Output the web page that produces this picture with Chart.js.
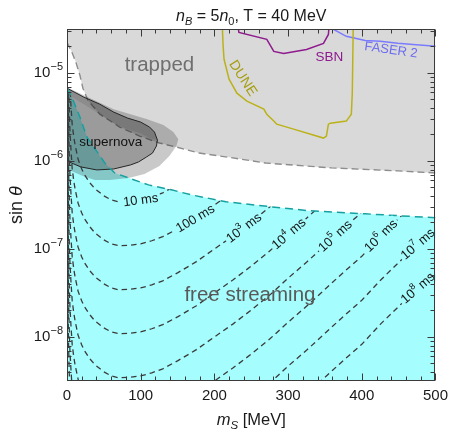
<!DOCTYPE html>
<html>
<head>
<meta charset="utf-8">
<title>Scalar: trapped vs free streaming</title>
<script src="https://cdn.jsdelivr.net/npm/chart.js@4.4.1/dist/chart.umd.min.js"></script>
<style>
  html, body { margin: 0; padding: 0; background: #fff; }
  #wrap { width: 454px; height: 430px; }
</style>
</head>
<body>
<div id="wrap"><canvas id="grafico" width="454" height="430"></canvas></div>
<script>
// axes
var massRange = [0, 500];
var sinRange = [3.16e-9, 3.16e-5];
var sinDecades = [-5, -6, -7, -8];

// lower edge of the trapped region
var trappedMass = [0, 6.7, 12.1, 17.5, 21.6, 28.3, 44.5, 71.5, 98.5, 125.4, 148.4, 179.4, 219.9, 269.8, 358.8, 449, 500];
var trappedSin = [2.23e-5, 1.72e-5, 1.32e-5, 9.42e-6, 6.71e-6, 4.91e-6, 3.40e-6, 2.43e-6, 1.92e-6, 1.60e-6, 1.44e-6, 1.23e-6, 1.10e-6, 9.48e-7, 8.34e-7, 7.71e-7, 7.31e-7];

// upper edge of the free streaming region
var freeMass = [0, 6.7, 17.5, 27, 36.4, 51.3, 64.7, 83.6, 110.6, 141.6, 168.6, 215.8, 277.9, 327.8, 404.6, 500];
var freeSin = [6.71e-6, 5.31e-6, 3.15e-6, 1.87e-6, 1.44e-6, 9.48e-7, 7.31e-7, 6.41e-7, 5.35e-7, 4.70e-7, 4.12e-7, 3.44e-7, 3.01e-7, 2.72e-7, 2.51e-7, 2.26e-7];

// supernova bounds (closed outlines)
var snOuterMass = [0, 22.9, 63.4, 107.9, 130.8, 144.3, 151.1, 148.4, 138.9, 125.4, 105.2, 83.6, 58, 37.8, 21.6, 2.7, 0];
var snOuterSin = [6.89e-6, 5.59e-6, 3.88e-6, 2.99e-6, 2.56e-6, 2.13e-6, 1.77e-6, 1.48e-6, 1.14e-6, 8.78e-7, 7.13e-7, 6.41e-7, 6.09e-7, 6.09e-7, 6.76e-7, 7.91e-7, 8.3e-7];
var snBandMass = [2.7, 22.9, 44.5, 63.4, 82.3, 99.8, 112, 118.7, 122.7, 112, 99.8, 82.3, 63.4, 44.5, 22.9, 2.7];
var snBandSin = [6.53e-6, 5.31e-6, 4.42e-6, 3.59e-6, 3.07e-6, 2.77e-6, 2.43e-6, 2.13e-6, 1.73e-6, 1.82e-6, 2.07e-6, 2.30e-6, 2.69e-6, 3.40e-6, 4.42e-6, 5.6e-6];
var snInnerMass = [0, 2.7, 22.9, 44.5, 63.4, 82.3, 99.8, 112, 118.7, 122.7, 121.4, 116, 107.9, 97.1, 86.3, 63.4, 40.5, 18.9, 2.7, 0];
var snInnerSin = [6.71e-6, 6.53e-6, 5.31e-6, 4.42e-6, 3.59e-6, 3.07e-6, 2.77e-6, 2.43e-6, 2.13e-6, 1.73e-6, 1.48e-6, 1.23e-6, 1.11e-6, 9.75e-7, 9.02e-7, 8.11e-7, 7.91e-7, 8.55e-7, 9.75e-7, 1.00e-6];

// experiment reach
var duneMass = [210.4, 211.8, 213.1, 219.9, 230.6, 244.1, 267.1, 271.1, 280.6, 284.6, 307.5, 348, 352, 354.7, 357.4, 379, 385.8, 387.1, 388.5];
var duneSin = [3.95e-5, 2.06e-5, 1.43e-5, 8.49e-6, 5.89e-6, 4.79e-6, 3.88e-6, 3.40e-6, 2.84e-6, 2.62e-6, 2.30e-6, 1.82e-6, 1.92e-6, 2.62e-6, 2.69e-6, 2.84e-6, 3.40e-6, 5.89e-6, 3.95e-5];
var sbnMass = [230.6, 233.3, 271.1, 280.6, 294, 325, 348, 354.7, 356.1];
var sbnSin = [3.95e-5, 2.89e-5, 2.41e-5, 1.76e-5, 1.67e-5, 1.85e-5, 2.17e-5, 2.74e-5, 3.95e-5];
var faserMass = [349.3, 379, 404.6, 424.9, 449.1, 469.4, 505];
var faserSin = [3.56e-5, 2.61e-5, 2.34e-5, 2.29e-5, 2.17e-5, 2.11e-5, 2.0e-5];

// lifetime contours
var contourMass = [0.5, 1, 1.5, 2, 3, 4, 5.5, 7, 9, 11, 15, 20, 24, 30, 38, 50, 60, 70, 85, 100, 115, 130, 150, 175, 200, 225, 250, 275, 300, 325, 350, 375, 400, 425, 450, 475, 500];
var tau1e1 = [1.87e-3, 2.33e-4, 7.19e-5, 2.89e-5, 1.26e-5, 6.89e-6, 4.09e-6, 2.62e-6, 1.92e-6, 1.52e-6, 1.05e-6, 8.11e-7, 6.93e-7, 5.78e-7, 4.82e-7, 4.02e-7, 3.61e-7, 3.44e-7, 3.48e-7, 3.61e-7, 3.91e-7, 4.35e-7, 5.35e-7, 7.13e-7, 1.00e-6, 1.40e-6, 2.02e-6, 2.99e-6, 4.66e-6, 7.06e-6, 1.10e-5, 1.71e-5, 2.61e-5, 4.39e-5, 7.01e-5, 1.12e-4, 1.70e-4];
var tau1e2 = [5.91e-4, 7.37e-5, 2.27e-5, 9.14e-6, 3.98e-6, 2.18e-6, 1.29e-6, 8.29e-7, 6.07e-7, 4.81e-7, 3.32e-7, 2.56e-7, 2.19e-7, 1.83e-7, 1.52e-7, 1.27e-7, 1.14e-7, 1.09e-7, 1.10e-7, 1.14e-7, 1.24e-7, 1.38e-7, 1.69e-7, 2.25e-7, 3.16e-7, 4.43e-7, 6.39e-7, 9.46e-7, 1.47e-6, 2.23e-6, 3.48e-6, 5.41e-6, 8.25e-6, 1.39e-5, 2.22e-5, 3.54e-5, 5.38e-5];
var tau1e3 = [1.87e-4, 2.33e-5, 7.19e-6, 2.89e-6, 1.26e-6, 6.89e-7, 4.09e-7, 2.62e-7, 1.92e-7, 1.52e-7, 1.05e-7, 8.11e-8, 6.93e-8, 5.78e-8, 4.82e-8, 4.02e-8, 3.61e-8, 3.44e-8, 3.48e-8, 3.61e-8, 3.91e-8, 4.35e-8, 5.35e-8, 7.13e-8, 1.00e-7, 1.40e-7, 2.02e-7, 2.99e-7, 4.66e-7, 7.06e-7, 1.10e-6, 1.71e-6, 2.61e-6, 4.39e-6, 7.01e-6, 1.12e-5, 1.70e-5];
var tau1e4 = [5.91e-5, 7.37e-6, 2.27e-6, 9.14e-7, 3.98e-7, 2.18e-7, 1.29e-7, 8.29e-8, 6.07e-8, 4.81e-8, 3.32e-8, 2.56e-8, 2.19e-8, 1.83e-8, 1.52e-8, 1.27e-8, 1.14e-8, 1.09e-8, 1.10e-8, 1.14e-8, 1.24e-8, 1.38e-8, 1.69e-8, 2.25e-8, 3.16e-8, 4.43e-8, 6.39e-8, 9.46e-8, 1.47e-7, 2.23e-7, 3.48e-7, 5.41e-7, 8.25e-7, 1.39e-6, 2.22e-6, 3.54e-6, 5.38e-6];
var tau1e5 = [1.87e-5, 2.33e-6, 7.19e-7, 2.89e-7, 1.26e-7, 6.89e-8, 4.09e-8, 2.62e-8, 1.92e-8, 1.52e-8, 1.05e-8, 8.11e-9, 6.93e-9, 5.78e-9, 4.82e-9, 4.02e-9, 3.61e-9, 3.44e-9, 3.48e-9, 3.61e-9, 3.91e-9, 4.35e-9, 5.35e-9, 7.13e-9, 1.00e-8, 1.40e-8, 2.02e-8, 2.99e-8, 4.66e-8, 7.06e-8, 1.10e-7, 1.71e-7, 2.61e-7, 4.39e-7, 7.01e-7, 1.12e-6, 1.70e-6];
var tau1e6 = [5.91e-6, 7.37e-7, 2.27e-7, 9.14e-8, 3.98e-8, 2.18e-8, 1.29e-8, 8.29e-9, 6.07e-9, 4.81e-9, 3.32e-9, 2.56e-9, 2.19e-9, 1.83e-9, 1.52e-9, 1.27e-9, 1.14e-9, 1.09e-9, 1.10e-9, 1.14e-9, 1.24e-9, 1.38e-9, 1.69e-9, 2.25e-9, 3.16e-9, 4.43e-9, 6.39e-9, 9.46e-9, 1.47e-8, 2.23e-8, 3.48e-8, 5.41e-8, 8.25e-8, 1.39e-7, 2.22e-7, 3.54e-7, 5.38e-7];
var tau1e7 = [1.87e-6, 2.33e-7, 7.19e-8, 2.89e-8, 1.26e-8, 6.89e-9, 4.09e-9, 2.62e-9, 1.92e-9, 1.52e-9, 1.05e-9, 8.11e-10, 6.93e-10, 5.78e-10, 4.82e-10, 4.02e-10, 3.61e-10, 3.44e-10, 3.48e-10, 3.61e-10, 3.91e-10, 4.35e-10, 5.35e-10, 7.13e-10, 1.00e-9, 1.40e-9, 2.02e-9, 2.99e-9, 4.66e-9, 7.06e-9, 1.10e-8, 1.71e-8, 2.61e-8, 4.39e-8, 7.01e-8, 1.12e-7, 1.70e-7];
var tau1e8 = [5.91e-7, 7.37e-8, 2.27e-8, 9.14e-9, 3.98e-9, 2.18e-9, 1.29e-9, 8.29e-10, 6.07e-10, 4.81e-10, 3.32e-10, 2.56e-10, 2.19e-10, 1.83e-10, 1.52e-10, 1.27e-10, 1.14e-10, 1.09e-10, 1.10e-10, 1.14e-10, 1.24e-10, 1.38e-10, 1.69e-10, 2.25e-10, 3.16e-10, 4.43e-10, 6.39e-10, 9.46e-10, 1.47e-9, 2.23e-9, 3.48e-9, 5.41e-9, 8.25e-9, 1.39e-8, 2.22e-8, 3.54e-8, 5.38e-8];
var contours = [tau1e1, tau1e2, tau1e3, tau1e4, tau1e5, tau1e6, tau1e7, tau1e8];
var contourNames = ['10 ms', '100 ms', '10^3 ms', '10^4 ms', '10^5 ms', '10^6 ms', '10^7 ms', '10^8 ms'];
var contourLabelMass = [100, 174, 240, 301, 364, 426, 476, 476];

var FONT = "'Liberation Sans', Arial, Helvetica, sans-serif";
var CIANO = '#a6fdfd';

// text placed in data coordinates
var notas = [
    { text: 'trapped', m: 125.4, s: 1.22e-5, size: 20.5, color: '#6f6f6f', rot: 0 },
    { text: 'supernova', m: 59.3, s: 1.64e-6, size: 13.5, color: '#111', rot: 0 },
    { text: 'free streaming', m: 248.2, s: 2.96e-8, size: 20.5, color: '#595959', rot: 0 },
    { text: 'DUNE', m: 238.5, s: 8.71e-6, size: 14, color: '#a59e10', rot: 57 },
    { text: 'SBN', m: 356, s: 1.51e-5, size: 13.5, color: '#8e1a8e', rot: 0 },
    { text: 'FASER 2', m: 439.7, s: 1.81e-5, size: 13, color: '#6d6df2', rot: 8 }
];

const fontOf = (p) => (p.italic ? 'italic ' : '') + p.size + 'px ' + FONT;

const drawRich = (ctx, parts, x, y, align) => {
    let total = 0;
    parts.forEach((p) => {
        ctx.font = fontOf(p);
        p.w = ctx.measureText(p.t).width;
        total += p.w;
    });
    let cx = align == 'right' ? x - total : (align == 'left' ? x : x - total / 2);
    parts.forEach((p) => {
        ctx.font = fontOf(p);
        ctx.fillText(p.t, cx, y + (p.dy || 0));
        cx += p.w;
    });
    return total;
};

// "10^3 ms" -> "10" + superscript "3" + " ms"
const withPower = (txt, size) => {
    const i = txt.indexOf('^');
    if (i < 0) return [{ t: txt, size: size }];
    const rest = txt.slice(i + 1);
    const j = rest.indexOf(' ');
    const exp = j < 0 ? rest : rest.slice(0, j);
    const parts = [
        { t: txt.slice(0, i), size: size },
        { t: exp.replace('-', '\u2212'), size: Math.round(size * 0.7), dy: -size * 0.38 }
    ];
    if (j >= 0) parts.push({ t: rest.slice(j), size: size });
    return parts;
};

const pontos = (ms, vs) => ms.map((m, i) => ({ x: m, y: vs[i] }));

const linha = (ms, vs, extra) => Object.assign({
    data: pontos(ms, vs),
    showLine: true,
    pointRadius: 0,
    borderWidth: 1.5,
    fill: false,
    tension: 0
}, extra);

// point and direction on a contour at a given mass
const naCurva = (chart, vals, m) => {
    const { x, y } = chart.scales;
    let i = 0;
    while (i < contourMass.length - 2 && contourMass[i + 1] < m) i++;
    const x0 = x.getPixelForValue(contourMass[i]), y0 = y.getPixelForValue(vals[i]);
    const x1 = x.getPixelForValue(contourMass[i + 1]), y1 = y.getPixelForValue(vals[i + 1]);
    const f = (m - contourMass[i]) / (contourMass[i + 1] - contourMass[i]);
    return { px: x0 + f * (x1 - x0), py: y0 + f * (y1 - y0), ang: Math.atan2(y1 - y0, x1 - x0) };
};

const decor = {
    id: 'decor',
    // contours only live inside the free streaming region
    beforeDatasetDraw(chart, args) {
        const ds = chart.data.datasets[args.index];
        if (!ds.freeClip) return;
        const { ctx, chartArea: a, scales: { x, y } } = chart;
        ctx.save();
        ctx.beginPath();
        freeMass.forEach((m, i) => {
            const px = x.getPixelForValue(m), py = y.getPixelForValue(freeSin[i]);
            if (i == 0) ctx.moveTo(px, py); else ctx.lineTo(px, py);
        });
        ctx.lineTo(a.right, a.bottom);
        ctx.lineTo(a.left, a.bottom);
        ctx.closePath();
        ctx.clip();
    },
    afterDatasetDraw(chart, args) {
        if (chart.data.datasets[args.index].freeClip) chart.ctx.restore();
    },
    afterDatasetsDraw(chart) {
        const { ctx, chartArea: a, scales: { x, y } } = chart;
        ctx.save();
        ctx.beginPath();
        ctx.rect(a.left, a.top, a.right - a.left, a.bottom - a.top);
        ctx.clip();
        ctx.textBaseline = 'middle';

        // contour labels
        contours.forEach((vals, k) => {
            const p = naCurva(chart, vals, contourLabelMass[k]);
            const parts = withPower(contourNames[k], 13);
            ctx.save();
            ctx.translate(p.px, p.py);
            ctx.rotate(p.ang);
            let w = 0;
            parts.forEach((q) => { ctx.font = fontOf(q); w += ctx.measureText(q.t).width; });
            ctx.fillStyle = CIANO;
            ctx.fillRect(-w / 2 - 2, -7, w + 4, 14);
            ctx.fillStyle = '#151515';
            drawRich(ctx, parts, 0, 0.5, 'center');
            ctx.restore();
        });

        notas.forEach((n) => {
            ctx.save();
            ctx.translate(x.getPixelForValue(n.m), y.getPixelForValue(n.s));
            ctx.rotate(n.rot * Math.PI / 180);
            ctx.fillStyle = n.color;
            drawRich(ctx, [{ t: n.text, size: n.size }], 0, 0, 'center');
            ctx.restore();
        });
        ctx.restore();

        // frame with inward ticks on all sides
        ctx.save();
        ctx.strokeStyle = '#3a3a3a';
        ctx.lineWidth = 1;
        const L = Math.round(a.left) + 0.5, R = Math.round(a.right) - 0.5;
        const T = Math.round(a.top) + 0.5, B = Math.round(a.bottom) - 0.5;
        ctx.strokeRect(L, T, R - L, B - T);
        ctx.beginPath();
        for (let m = massRange[0]; m <= massRange[1]; m += 20) {
            const px = Math.round(x.getPixelForValue(m)) + 0.5;
            const len = m % 100 == 0 ? 7 : 4;
            ctx.moveTo(px, B); ctx.lineTo(px, B - len);
            ctx.moveTo(px, T); ctx.lineTo(px, T + len);
        }
        for (let e = -9; e <= -5; e++) {
            for (let k = 1; k <= 9; k++) {
                const v = k * Math.pow(10, e);
                if (v < sinRange[0] || v > sinRange[1]) continue;
                const py = Math.round(y.getPixelForValue(v)) + 0.5;
                const len = k == 1 ? 7 : 4;
                ctx.moveTo(L, py); ctx.lineTo(L + len, py);
                ctx.moveTo(R, py); ctx.lineTo(R - len, py);
            }
        }
        ctx.stroke();

        // y tick labels
        ctx.fillStyle = '#1a1a1a';
        ctx.textBaseline = 'middle';
        sinDecades.forEach((e) => {
            drawRich(ctx, withPower('10^' + e, 15), a.left - 4, y.getPixelForValue(Math.pow(10, e)), 'right');
        });
        ctx.restore();
    },
    afterDraw(chart) {
        const { ctx, chartArea: a } = chart;
        const meio = (a.left + a.right) / 2;
        ctx.save();
        ctx.fillStyle = '#1a1a1a';
        ctx.textBaseline = 'alphabetic';
        drawRich(ctx, [
            { t: 'n', size: 16, italic: true },
            { t: 'B', size: 11, italic: true, dy: 4 },
            { t: ' = 5', size: 16 },
            { t: 'n', size: 16, italic: true },
            { t: '0', size: 11, dy: 4 },
            { t: ', T = 40 MeV', size: 16 }
        ], meio, 21, 'center');

        drawRich(ctx, [
            { t: 'm', size: 16.5, italic: true },
            { t: 'S', size: 11.5, italic: true, dy: 4 },
            { t: ' [MeV]', size: 16.5 }
        ], meio, 425, 'center');

        ctx.translate(17, (a.top + a.bottom) / 2);
        ctx.rotate(-Math.PI / 2);
        ctx.textBaseline = 'middle';
        drawRich(ctx, [
            { t: 'sin ', size: 18 },
            { t: '\u03b8', size: 18, italic: true }
        ], 0, 0, 'center');
        ctx.restore();
    }
};

Chart.defaults.font.family = FONT;

const conjuntos = [
    linha(trappedMass, trappedSin, { fill: 'end', backgroundColor: '#d9d9d9', borderColor: '#8d8d8d', borderDash: [7, 4], borderWidth: 1.4, order: 100 }),
    linha(freeMass, freeSin, { fill: 'start', backgroundColor: CIANO, borderColor: 'rgba(0,0,0,0)', borderWidth: 0, order: 90 }),
    linha(snOuterMass, snOuterSin, { fill: 'shape', backgroundColor: 'rgba(30,30,30,0.24)', borderColor: 'rgba(0,0,0,0)', borderWidth: 0, order: 80 }),
    linha(snBandMass, snBandSin, { fill: 'shape', backgroundColor: 'rgba(30,30,30,0.12)', borderColor: 'rgba(0,0,0,0)', borderWidth: 0, order: 79 }),
    linha(snInnerMass, snInnerSin, { fill: 'shape', backgroundColor: 'rgba(30,30,30,0.27)', borderColor: '#262626', borderWidth: 1, order: 78 })
];
contours.forEach((vals) => {
    conjuntos.push(linha(contourMass, vals, { borderColor: '#3a3a3a', borderDash: [5.5, 4], borderWidth: 1.3, freeClip: true, order: 60 }));
});
conjuntos.push(linha(freeMass, freeSin, { borderColor: '#17a0a0', borderDash: [8, 5], borderWidth: 1.5, order: 40 }));
conjuntos.push(linha(duneMass, duneSin, { borderColor: '#bbb219', order: 30 }));
conjuntos.push(linha(sbnMass, sbnSin, { borderColor: '#8e1a8e', order: 30 }));
conjuntos.push(linha(faserMass, faserSin, { borderColor: '#7b7bff', order: 30 }));

new Chart(document.getElementById('grafico').getContext('2d'), {
    type: 'scatter',
    data: { datasets: conjuntos },
    options: {
        responsive: false,
        animation: false,
        devicePixelRatio: 1,
        layout: { padding: { top: 29, right: 16, left: 0, bottom: 0 } },
        plugins: { legend: { display: false }, tooltip: { enabled: false }, title: { display: false } },
        scales: {
            x: {
                type: 'linear',
                min: massRange[0],
                max: massRange[1],
                grid: { display: false, drawTicks: false },
                border: { display: false },
                ticks: { stepSize: 100, font: { size: 15 }, color: '#1a1a1a', padding: 6, maxRotation: 0 },
                afterFit: (s) => { s.height = 49; }
            },
            y: {
                type: 'logarithmic',
                min: sinRange[0],
                max: sinRange[1],
                grid: { display: false, drawTicks: false },
                border: { display: false },
                ticks: { display: false },
                afterFit: (s) => { s.width = 67; }
            }
        }
    },
    plugins: [decor]
});
</script>
</body>
</html>
